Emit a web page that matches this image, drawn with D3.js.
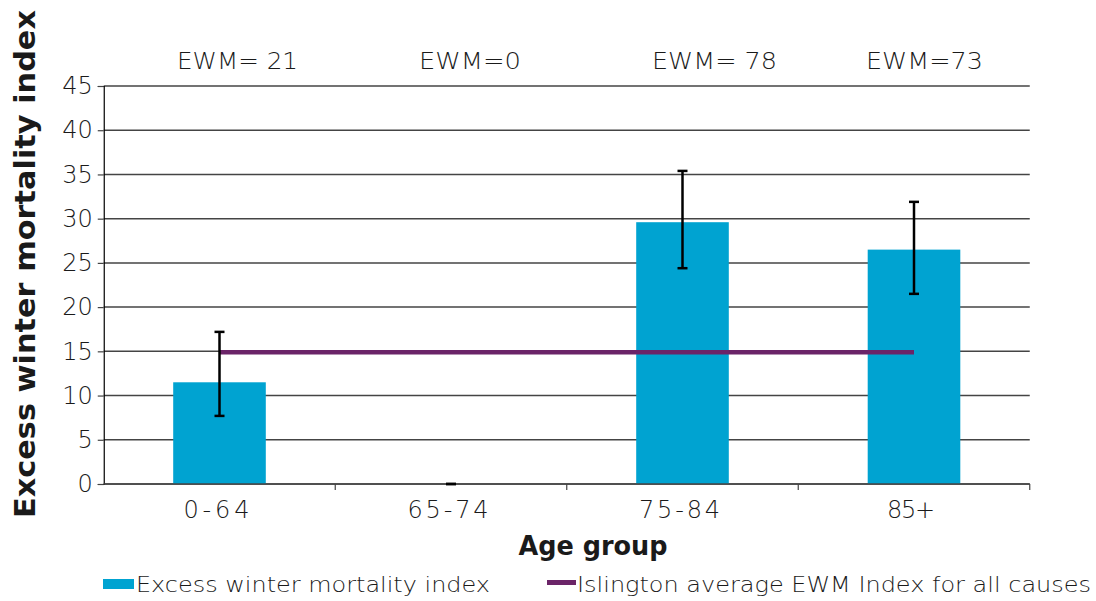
<!DOCTYPE html>
<html>
<head>
<meta charset="utf-8">
<script src="https://cdn.jsdelivr.net/npm/d3@7"></script>
<style>
  html, body { margin: 0; padding: 0; background: #fff; }
  svg { display: block; }
  text { font-family: "DejaVu Sans", "Open Sans", sans-serif; fill: #1a1a1a; }
</style>
</head>
<body>
<svg id="chart" width="1096" height="601"></svg>
<script>
const categories = ["0-64", "65-74", "75-84", "85+"];
const ewmValues = [11.5, 0, 29.6, 26.5];
const ciLower = [7.7, 0, 24.4, 21.5];
const ciUpper = [17.2, 0, 35.4, 31.9];
const islingtonAverage = 14.9;
const topLabels = ["EWM= 21", "EWM=0", "EWM= 78", "EWM=73"];
const yTicks = [0, 5, 10, 15, 20, 25, 30, 35, 40, 45];

const svg = d3.select("#chart");
const margin = { left: 103.75, right: 1096 - 1029.75, top: 86, bottom: 601 - 484 };
const W = 1096, H = 601;

const x = d3.scaleBand().domain(categories).range([margin.left, W - margin.right]).paddingInner(0.6).paddingOuter(0.3);
const xb = d3.scaleBand().domain(categories).range([margin.left, W - margin.right]);
const y = d3.scaleLinear().domain([0, 45]).range([H - margin.bottom, margin.top]);

// gridlines
svg.append("g").selectAll("line").data(yTicks).join("line")
  .attr("x1", margin.left).attr("x2", W - margin.right)
  .attr("y1", d => y(d)).attr("y2", d => y(d))
  .attr("stroke", "#444").attr("stroke-width", 1.5);

// y axis
const yAxis = svg.append("g").attr("transform", `translate(${margin.left},0)`)
  .call(d3.axisLeft(y).tickValues(yTicks).tickSize(6).tickPadding(5));
yAxis.select(".domain").attr("stroke", "#000").attr("stroke-width", 1.2);
yAxis.selectAll(".tick line").attr("stroke", "#444").attr("stroke-width", 1.2);
yAxis.selectAll("text").style("font-size", "24px").style("font-family", "'DejaVu Sans', sans-serif")
  .attr("fill", "#1a1a1a").attr("font-weight", 300);

// bars
svg.append("g").selectAll("rect").data(categories).join("rect")
  .attr("x", d => x(d)).attr("width", x.bandwidth())
  .attr("y", (d, i) => y(ewmValues[i]))
  .attr("height", (d, i) => y(0) - y(ewmValues[i]))
  .attr("fill", "#00a3d1");

// x axis
const xAxisG = svg.append("g").attr("transform", `translate(0,${y(0)})`);
xAxisG.append("line").attr("x1", margin.left).attr("x2", W - margin.right)
  .attr("y1", 0).attr("y2", 0).attr("stroke", "#444").attr("stroke-width", 1.5);
const bounds = categories.map(c => xb(c)).concat([xb(categories[categories.length - 1]) + xb.bandwidth()]).slice(1);
xAxisG.selectAll("line.tk").data(bounds).join("line").attr("class", "tk")
  .attr("x1", d => d).attr("x2", d => d).attr("y1", 0).attr("y2", 6)
  .attr("stroke", "#444").attr("stroke-width", 1.2);
const xLabelWidths = [66, 81, 81, 48];
xAxisG.selectAll("text.lbl").data(categories).join("text").attr("class", "lbl")
  .attr("x", d => x(d) + x.bandwidth() / 2 - 3).attr("y", 34)
  .attr("text-anchor", "middle").style("font-size", "24px").attr("font-weight", 300)
  .attr("textLength", (d, i) => xLabelWidths[i]).attr("lengthAdjust", "spacing")
  .text(d => d);

// average line
svg.append("line")
  .attr("x1", x(categories[0]) + x.bandwidth() / 2)
  .attr("x2", x(categories[3]) + x.bandwidth() / 2)
  .attr("y1", y(islingtonAverage)).attr("y2", y(islingtonAverage))
  .attr("stroke", "#6b2468").attr("stroke-width", 4.5);

// error bars
const eb = svg.append("g").attr("stroke", "#000").attr("stroke-width", 2.5);
categories.forEach((c, i) => {
  const cx = x(c) + x.bandwidth() / 2;
  if (ciUpper[i] !== ciLower[i]) {
    eb.append("line").attr("x1", cx).attr("x2", cx).attr("y1", y(ciUpper[i])).attr("y2", y(ciLower[i]));
  }
  eb.append("line").attr("x1", cx - 5).attr("x2", cx + 5).attr("y1", y(ciUpper[i])).attr("y2", y(ciUpper[i]));
  eb.append("line").attr("x1", cx - 5).attr("x2", cx + 5).attr("y1", y(ciLower[i])).attr("y2", y(ciLower[i]));
});

// top labels
const topOffsets = [18, 19, 32, 10.5];
const topWidths = [121, 102, 125, 117];
svg.append("g").selectAll("text").data(topLabels).join("text")
  .attr("x", (d, i) => x(categories[i]) + x.bandwidth() / 2 + topOffsets[i])
  .attr("y", 69).attr("text-anchor", "middle")
  .style("font-size", "23px").attr("font-weight", 300)
  .attr("textLength", (d, i) => topWidths[i]).attr("lengthAdjust", "spacingAndGlyphs")
  .text(d => d);

// axis titles
svg.append("text").attr("transform", `translate(35,${(10 + 518) / 2}) rotate(-90)`)
  .attr("text-anchor", "middle").style("font-size", "28px").attr("font-weight", 700).attr("fill", "#000")
  .attr("textLength", 508).attr("lengthAdjust", "spacingAndGlyphs")
  .text("Excess winter mortality index");
svg.append("text").attr("x", 593).attr("y", 555).attr("text-anchor", "middle")
  .style("font-size", "26px").attr("font-weight", 700).attr("fill", "#000")
  .attr("textLength", 149).attr("lengthAdjust", "spacingAndGlyphs")
  .text("Age group");

// legend
const lg = svg.append("g");
lg.append("rect").attr("x", 103).attr("y", 579).attr("width", 31).attr("height", 10).attr("fill", "#00a3d1");
lg.append("text").attr("x", 136).attr("y", 592).style("font-size", "22px").attr("font-weight", 300)
  .attr("textLength", 354).attr("lengthAdjust", "spacingAndGlyphs")
  .text("Excess winter mortality index");
lg.append("rect").attr("x", 547).attr("y", 580).attr("width", 29).attr("height", 5).attr("fill", "#6b2468");
lg.append("text").attr("x", 577).attr("y", 592).style("font-size", "22px").attr("font-weight", 300)
  .attr("textLength", 514).attr("lengthAdjust", "spacingAndGlyphs")
  .text("Islington average EWM Index for all causes");
</script>
</body>
</html>
